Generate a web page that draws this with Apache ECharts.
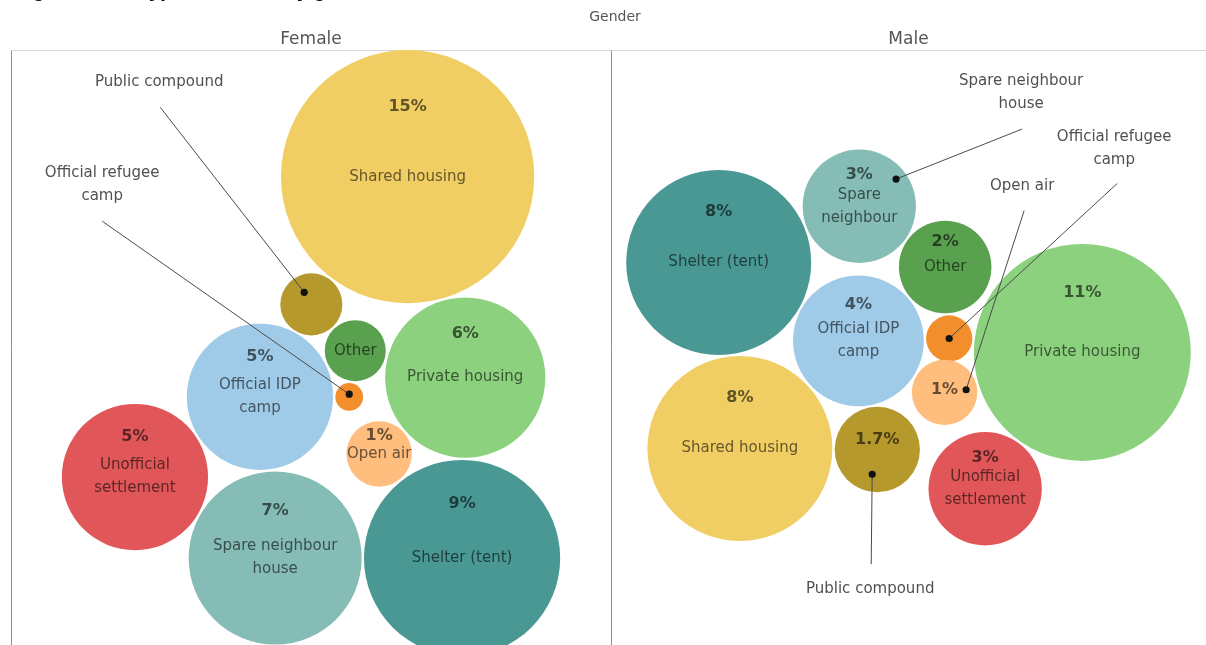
<!DOCTYPE html>
<html>
<head>
<meta charset="utf-8">
<script src="https://cdn.jsdelivr.net/npm/echarts@6/dist/echarts.min.js"></script>
<style>
  html, body { margin: 0; padding: 0; background: #ffffff; }
  #chart { width: 1206px; height: 645px; }
</style>
</head>
<body>
<div id="chart"></div>
<script>
// Shelter types, in colour-legend order
const categories = [
  'Official IDP camp', 'Official refugee camp', 'Open air', 'Other', 'Private housing',
  'Public compound', 'Shared housing', 'Shelter (tent)', 'Spare neighbour house', 'Unofficial settlement'
];
const genders = ['Female', 'Male'];

// Share of respondents per shelter type (%)
const femaleShare = [5, 0.18, 1, 0.87, 6, 0.9, 15, 9, 7, 5];
const maleShare   = [4, 0.5, 1, 2, 11, 1.7, 8, 8, 3, 3];

// Text written inside the bubbles
const femaleValueShown = ['Official IDP camp', 'Open air', 'Private housing', 'Shared housing',
  'Shelter (tent)', 'Spare neighbour house', 'Unofficial settlement'];
const maleValueShown = ['Official IDP camp', 'Open air', 'Other', 'Private housing', 'Public compound',
  'Shared housing', 'Shelter (tent)', 'Spare neighbour house', 'Unofficial settlement'];
const femaleNameText = {
  'Official IDP camp': 'Official IDP\ncamp', 'Open air': 'Open air', 'Other': 'Other',
  'Private housing': 'Private housing', 'Shared housing': 'Shared housing', 'Shelter (tent)': 'Shelter (tent)',
  'Spare neighbour house': 'Spare neighbour\nhouse', 'Unofficial settlement': 'Unofficial\nsettlement'
};
const maleNameText = {
  'Official IDP camp': 'Official IDP\ncamp', 'Other': 'Other', 'Private housing': 'Private housing',
  'Shared housing': 'Shared housing', 'Shelter (tent)': 'Shelter (tent)',
  'Spare neighbour house': 'Spare\nneighbour', 'Unofficial settlement': 'Unofficial\nsettlement'
};
const titleText = 'Figure 3.10 - Type of shelter by gender';

// ---------------------------------------------------------------------------
// Styling
const palette = {
  'Official IDP camp': '#A0CBE8', 'Official refugee camp': '#F28E2B', 'Open air': '#FFBE7D',
  'Other': '#59A14F', 'Private housing': '#8CD17D', 'Public compound': '#B6992D',
  'Shared housing': '#F1CE63', 'Shelter (tent)': '#499894', 'Spare neighbour house': '#86BCB6',
  'Unofficial settlement': '#E15759'
};
const FONT = '"DejaVu Sans", "Open Sans", sans-serif';
const S = 32.7;     // pixels per unit of sqrt(share)
const GAP = 0.07;   // spacing left between touching bubbles (same units)

function darken(hex, k) {
  const n = parseInt(hex.slice(1), 16);
  const c = [(n >> 16) & 255, (n >> 8) & 255, n & 255].map(v => Math.round(v * (1 - k)));
  return 'rgb(' + c.join(',') + ')';
}

// Packing order: the first bubble seeds the pane, a bubble with one neighbour
// and a bearing (deg) sits against it, a bubble with two neighbours is nested
// against both of them on the given side.
const femalePack = [
  ['Shared housing'],
  ['Private housing', 'Shared housing', 74],
  ['Shelter (tent)', 'Private housing', 91],
  ['Public compound', 'Shared housing', 127],
  ['Spare neighbour house', 'Shelter (tent)', 180],
  ['Official IDP camp', 'Spare neighbour house', 264.6],
  ['Unofficial settlement', 'Official IDP camp', 'Spare neighbour house', 1],
  ['Other', 'Official IDP camp', 'Public compound', 1],
  ['Official refugee camp', 'Other', 'Official IDP camp', -1],
  ['Open air', 'Private housing', 'Shelter (tent)', 1]
];
const malePack = [
  ['Shelter (tent)'],
  ['Shared housing', 'Shelter (tent)', 83.5],
  ['Official IDP camp', 'Shelter (tent)', 'Shared housing', -1],
  ['Spare neighbour house', 'Shelter (tent)', -21.8],
  ['Other', 'Spare neighbour house', 'Official IDP camp', -1],
  ['Official refugee camp', 'Official IDP camp', 'Other', 1],
  ['Private housing', 'Official refugee camp', 6],
  ['Public compound', 'Shared housing', 'Official IDP camp', 1],
  ['Open air', 'Official IDP camp', 'Private housing', 1],
  ['Unofficial settlement', 'Private housing', 125.5]
];

// Callouts: anchor dot (fraction of the bubble radius from its centre),
// text centre and leader-line start (pixels from the dot)
const femaleCallouts = [
  { c: 'Public compound', text: 'Public compound', dot: [-0.23, -0.39], label: [-145, -210], lead: [-144, -185] },
  { c: 'Official refugee camp', text: 'Official refugee\ncamp', dot: [0, -0.2], label: [-247, -210], lead: [-247, -173] }
];
const maleCallouts = [
  { c: 'Spare neighbour house', text: 'Spare neighbour\nhouse', dot: [0.65, -0.48], label: [125, -86], lead: [126, -50] },
  { c: 'Official refugee camp', text: 'Official refugee\ncamp', dot: [0, 0], label: [165, -190], lead: [168, -155] },
  { c: 'Open air', text: 'Open air', dot: [0.66, -0.08], label: [56, -204], lead: [58, -179] },
  { c: 'Public compound', text: 'Public compound', dot: [-0.12, 0.58], label: [-2, 115], lead: [-1, 90] }
];

function pack(values, plan) {
  const r = {};
  categories.forEach((c, i) => { r[c] = Math.sqrt(values[i]); });
  const pos = {};
  plan.forEach(([c, a, b, side]) => {
    if (a === undefined) { pos[c] = [0, 0]; return; }
    if (typeof b === 'number') {
      const d = r[a] + r[c] + GAP, t = b * Math.PI / 180;
      pos[c] = [pos[a][0] + d * Math.cos(t), pos[a][1] + d * Math.sin(t)];
      return;
    }
    const pa = pos[a], pb = pos[b];
    const da = r[a] + r[c] + GAP, db = r[b] + r[c] + GAP;
    const dx = pb[0] - pa[0], dy = pb[1] - pa[1], L = Math.hypot(dx, dy);
    const ux = dx / L, uy = dy / L;
    const along = (da * da - db * db + L * L) / (2 * L);
    const h = Math.sqrt(Math.max(0, da * da - along * along));
    pos[c] = [pa[0] + ux * along - side * uy * h, pa[1] + uy * along + side * ux * h];
  });
  let x0 = Infinity, x1 = -Infinity, y0 = Infinity, y1 = -Infinity;
  categories.forEach(c => {
    x0 = Math.min(x0, pos[c][0] - r[c]); x1 = Math.max(x1, pos[c][0] + r[c]);
    y0 = Math.min(y0, pos[c][1] - r[c]); y1 = Math.max(y1, pos[c][1] + r[c]);
  });
  return { r, pos, x0, x1, y0, y1 };
}

const panes = [
  { values: femaleShare, plan: femalePack, shown: femaleValueShown, names: femaleNameText,
    callouts: femaleCallouts, lift: {}, grid: { left: 11, top: 50, width: 600, height: 595 } },
  { values: maleShare, plan: malePack, shown: maleValueShown, names: maleNameText,
    callouts: maleCallouts, lift: { 'Public compound': 0.22, 'Open air': 0.08 },
    grid: { left: 611, top: 50, width: 595, height: 595 } }
];

const option = {
  animation: false,
  grid: [], xAxis: [], yAxis: [], series: [], graphic: []
};

panes.forEach((p, i) => {
  const L = pack(p.values, p.plan);
  const g = p.grid;
  const halfW = g.width / 2 / S, halfH = g.height / 2 / S;
  const cx = (L.x0 + L.x1) / 2;
  // centre the group; a group taller than the pane hangs from the pane's top
  const cy = (L.y1 - L.y0) > 2 * halfH ? L.y0 + halfH : (L.y0 + L.y1) / 2;
  option.grid.push(Object.assign({ containLabel: false }, g));
  option.xAxis.push({ type: 'value', gridIndex: i, show: false, min: cx - halfW, max: cx + halfW });
  option.yAxis.push({ type: 'value', gridIndex: i, show: false, inverse: true, min: cy - halfH, max: cy + halfH });

  // bubbles, with the category name inside
  option.series.push({
    type: 'scatter', xAxisIndex: i, yAxisIndex: i, z: 2, silent: true, clip: false,
    symbol: 'circle',
    data: categories.map((c, k) => ({
      name: c,
      value: [L.pos[c][0], L.pos[c][1], p.values[k]],
      symbolSize: 2 * L.r[c] * S,
      itemStyle: { color: palette[c], opacity: 1 },
      label: {
        show: !!p.names[c], position: 'inside', formatter: p.names[c] || '',
        color: darken(palette[c], 0.58), fontFamily: FONT, fontSize: 15, lineHeight: 23
      }
    }))
  });

  // percentage labels
  option.series.push({
    type: 'scatter', xAxisIndex: i, yAxisIndex: i, z: 3, silent: true, clip: false,
    symbol: 'circle', symbolSize: 1, itemStyle: { color: 'rgba(0,0,0,0)' },
    data: categories.map((c, k) => ({
      name: c,
      value: [L.pos[c][0], L.pos[c][1], p.values[k]],
      label: {
        show: p.shown.indexOf(c) >= 0, position: 'inside',
        formatter: p.values[k] + '%',
        offset: [0, -(p.lift[c] !== undefined ? p.lift[c] : 0.55) * L.r[c] * S],
        color: darken(palette[c], 0.75), fontFamily: FONT, fontSize: 16, fontWeight: 'bold'
      }
    }))
  });

  // callouts for bubbles named outside
  const co = p.callouts;
  option.series.push({
    type: 'custom', xAxisIndex: i, yAxisIndex: i, z: 5, silent: true,
    data: co.map(k => [
      L.pos[k.c][0] + k.dot[0] * L.r[k.c],
      L.pos[k.c][1] + k.dot[1] * L.r[k.c]
    ]),
    renderItem: (params, api) => {
      const k = co[params.dataIndex];
      const pt = api.coord([api.value(0), api.value(1)]);
      return {
        type: 'group',
        children: [
          { type: 'line', shape: { x1: pt[0] + k.lead[0], y1: pt[1] + k.lead[1], x2: pt[0], y2: pt[1] },
            style: { stroke: '#4a4a4a', lineWidth: 1 } },
          { type: 'circle', shape: { cx: pt[0], cy: pt[1], r: 3.6 }, style: { fill: '#111111' } },
          { type: 'text', x: pt[0] + k.label[0], y: pt[1] + k.label[1],
            style: { text: k.text, align: 'center', verticalAlign: 'middle', fill: '#505050',
              font: '15px ' + FONT, lineHeight: 23 } }
        ]
      };
    }
  });

  // pane header
  option.graphic.push({
    type: 'text', x: g.left + g.width / 2, y: 40,
    style: { text: genders[i], align: 'center', verticalAlign: 'middle', fill: '#555555', font: '17px ' + FONT }
  });
  // pane left rule
  option.graphic.push({
    type: 'line', shape: { x1: g.left + 0.5, y1: g.top, x2: g.left + 0.5, y2: g.top + g.height },
    style: { stroke: '#8f8f8f', lineWidth: 1 }
  });
});

// column header and rule
option.graphic.push({
  type: 'text', x: 615, y: 17,
  style: { text: 'Gender', align: 'center', verticalAlign: 'middle', fill: '#555555', font: '14px ' + FONT }
});
option.graphic.push({
  type: 'line', shape: { x1: 11, y1: 50.5, x2: 1206, y2: 50.5 },
  style: { stroke: '#d6d6d6', lineWidth: 1 }
});
// figure title (runs off the top edge)
option.graphic.push({
  type: 'text', x: 15, y: -19,
  style: { text: titleText, align: 'left', verticalAlign: 'top', fill: '#000000',
    font: 'bold 20px "Liberation Sans", Arial, sans-serif' }
});

const chart = echarts.init(document.getElementById('chart'), null, { renderer: 'canvas' });
chart.setOption(option);
</script>
</body>
</html>
